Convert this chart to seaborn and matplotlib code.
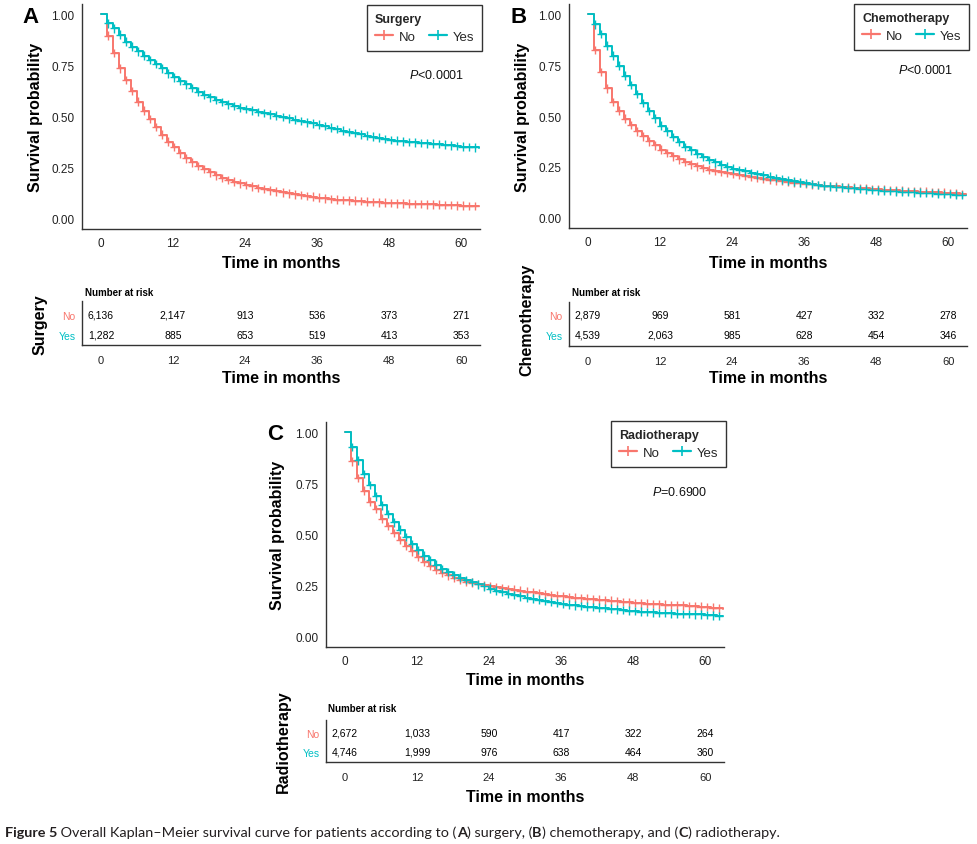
import numpy as np
import pandas as pd
import matplotlib
matplotlib.use("Agg")
import matplotlib.pyplot as plt
import seaborn as sns
from matplotlib.lines import Line2D

# ---------------- data ----------------
months = list(range(64))

surgery_no = [1.00, 0.895, 0.81, 0.735, 0.678, 0.625, 0.572, 0.528, 0.487, 0.449,
              0.412, 0.377, 0.350, 0.320, 0.295, 0.276, 0.259, 0.243, 0.227, 0.212,
              0.199, 0.190, 0.181, 0.173, 0.165, 0.158, 0.151, 0.145, 0.139, 0.134,
              0.129, 0.124, 0.120, 0.116, 0.112, 0.108, 0.104, 0.100, 0.097, 0.094,
              0.092, 0.090, 0.088, 0.086, 0.084, 0.082, 0.080, 0.079, 0.078, 0.076,
              0.075, 0.074, 0.073, 0.072, 0.071, 0.070, 0.069, 0.068, 0.067, 0.066,
              0.064, 0.063, 0.062, 0.062]
surgery_yes = [1.00, 0.956, 0.931, 0.900, 0.866, 0.842, 0.818, 0.797, 0.776, 0.757,
               0.735, 0.711, 0.692, 0.674, 0.657, 0.639, 0.622, 0.607, 0.593, 0.581,
               0.570, 0.560, 0.552, 0.544, 0.537, 0.530, 0.523, 0.517, 0.510, 0.504,
               0.497, 0.491, 0.484, 0.478, 0.472, 0.466, 0.460, 0.453, 0.446, 0.438,
               0.431, 0.425, 0.419, 0.413, 0.407, 0.401, 0.396, 0.391, 0.386, 0.382,
               0.379, 0.376, 0.373, 0.371, 0.369, 0.367, 0.365, 0.362, 0.359, 0.356,
               0.353, 0.351, 0.349, 0.348]
chemo_no = [1.00, 0.825, 0.717, 0.636, 0.568, 0.527, 0.487, 0.455, 0.425, 0.400,
            0.376, 0.356, 0.335, 0.319, 0.302, 0.287, 0.274, 0.263, 0.253, 0.245,
            0.237, 0.231, 0.226, 0.221, 0.216, 0.211, 0.206, 0.201, 0.197, 0.192,
            0.188, 0.184, 0.180, 0.176, 0.173, 0.170, 0.167, 0.164, 0.161, 0.158,
            0.156, 0.154, 0.152, 0.150, 0.148, 0.146, 0.144, 0.142, 0.140, 0.138,
            0.137, 0.135, 0.134, 0.132, 0.131, 0.129, 0.128, 0.126, 0.125, 0.123,
            0.122, 0.120, 0.118, 0.117]
chemo_yes = [1.00, 0.950, 0.902, 0.845, 0.796, 0.747, 0.698, 0.653, 0.608, 0.564,
             0.524, 0.489, 0.453, 0.424, 0.396, 0.372, 0.348, 0.331, 0.315, 0.299,
             0.285, 0.272, 0.261, 0.251, 0.242, 0.235, 0.228, 0.221, 0.214, 0.208,
             0.202, 0.195, 0.189, 0.184, 0.179, 0.174, 0.170, 0.166, 0.162, 0.158,
             0.155, 0.152, 0.149, 0.146, 0.144, 0.142, 0.140, 0.137, 0.135, 0.133,
             0.132, 0.130, 0.129, 0.127, 0.125, 0.124, 0.122, 0.121, 0.119, 0.118,
             0.116, 0.114, 0.112, 0.111]
radio_no = [1.00, 0.858, 0.777, 0.715, 0.661, 0.625, 0.577, 0.541, 0.507, 0.474,
            0.446, 0.417, 0.389, 0.365, 0.345, 0.327, 0.313, 0.300, 0.288, 0.278,
            0.270, 0.264, 0.257, 0.251, 0.246, 0.242, 0.238, 0.234, 0.230, 0.225,
            0.221, 0.217, 0.213, 0.209, 0.205, 0.201, 0.197, 0.194, 0.191, 0.188,
            0.186, 0.183, 0.181, 0.178, 0.176, 0.173, 0.171, 0.168, 0.166, 0.164,
            0.162, 0.160, 0.158, 0.157, 0.156, 0.154, 0.153, 0.151, 0.149, 0.147,
            0.145, 0.142, 0.139, 0.137]
radio_yes = [1.00, 0.927, 0.862, 0.796, 0.743, 0.687, 0.642, 0.601, 0.560, 0.524,
             0.487, 0.454, 0.425, 0.397, 0.373, 0.352, 0.332, 0.316, 0.303, 0.289,
             0.278, 0.267, 0.256, 0.246, 0.235, 0.226, 0.218, 0.211, 0.205, 0.198,
             0.192, 0.186, 0.181, 0.175, 0.169, 0.165, 0.161, 0.157, 0.154, 0.151,
             0.148, 0.145, 0.142, 0.140, 0.137, 0.134, 0.131, 0.128, 0.125, 0.123,
             0.121, 0.119, 0.117, 0.116, 0.115, 0.113, 0.112, 0.111, 0.110, 0.109,
             0.107, 0.105, 0.102, 0.100]

risk_times = [0, 12, 24, 36, 48, 60]
surgery_risk_no = [6136, 2147, 913, 536, 373, 271]
surgery_risk_yes = [1282, 885, 653, 519, 413, 353]
chemo_risk_no = [2879, 969, 581, 427, 332, 278]
chemo_risk_yes = [4539, 2063, 985, 628, 454, 346]
radio_risk_no = [2672, 1033, 590, 417, 322, 264]
radio_risk_yes = [4746, 1999, 976, 638, 464, 360]

group_labels = ["No", "Yes"]
y_tick_values = [0.0, 0.25, 0.5, 0.75, 1.0]
y_tick_labels = ["0.00", "0.25", "0.50", "0.75", "1.00"]
pvalues = ["<0.0001", "<0.0001", "=0.6900"]

RED = "#F8766D"
TEAL = "#00BFC4"
palette = {"No": RED, "Yes": TEAL}

# ---------------- style ----------------
sns.set_style("white")
plt.rcParams["font.family"] = ["Liberation Sans", "DejaVu Sans"]
plt.rcParams["mathtext.fontset"] = "custom"
plt.rcParams["mathtext.rm"] = "Liberation Sans"
plt.rcParams["mathtext.it"] = "Liberation Sans:italic"
plt.rcParams["mathtext.bf"] = "Liberation Sans:bold"

W, H = 978, 845
fig = plt.figure(figsize=(W / 100, H / 100), dpi=100)
fig.patch.set_facecolor("white")


def fx(px):
    return px / W


def fy(py):
    return 1 - py / H


def rect(l, t, r, b):
    return [fx(l), fy(b), (r - l) / W, (b - t) / H]


AX_COL = "#333333"
XLIM = (-3.15, 63.15)


def style_axes(ax):
    for s in ["top", "right"]:
        ax.spines[s].set_visible(False)
    for s in ["left", "bottom"]:
        ax.spines[s].set_color(AX_COL)
        ax.spines[s].set_linewidth(1.0)
    ax.tick_params(axis="both", which="both", direction="out", length=3.5,
                   width=0.8, color=AX_COL, labelsize=8.5, labelcolor="#222222")


def draw_panel(cfg):
    ax = fig.add_axes(rect(*cfg["main"]))
    style_axes(ax)
    frames = []
    for g, s in zip(group_labels, cfg["series"]):
        frames.append(pd.DataFrame({"time": months, "surv": s, "group": g}))
    df = pd.concat(frames, ignore_index=True)
    sns.lineplot(data=df, x="time", y="surv", hue="group", palette=palette,
                 drawstyle="steps-post", estimator=None, sort=True,
                 linewidth=1.4, legend=False, ax=ax)
    mk = df[(df["time"] >= 1) & (df["time"] <= 62)].copy()
    mk["time"] = mk["time"] + 0.25
    sns.scatterplot(data=mk, x="time", y="surv", hue="group", palette=palette,
                    marker="+", s=38, linewidth=1.0, legend=False, ax=ax,
                    zorder=3)
    ax.set_xlim(*XLIM)
    ax.set_ylim(-0.05, 1.05)
    ax.set_xticks(risk_times)
    ax.set_yticks(y_tick_values)
    ax.set_yticklabels(y_tick_labels)
    ax.tick_params(axis="x", pad=2.5)
    ax.tick_params(axis="y", pad=2)
    ax.set_xlabel("")
    ax.set_ylabel("")
    ax.text(cfg["pval"][0], cfg["pval"][1], r"$\mathit{P}$" + cfg["ptext"],
            fontsize=9, ha="left", va="center", color="#111111")

    # labels
    l, t, r, b = cfg["main"]
    fig.text(fx(cfg["ylab_x"]), fy((t + b) / 2), "Survival probability",
             rotation=90, ha="center", va="center", fontsize=11.5,
             fontweight="bold", color="black")
    fig.text(fx((l + r) / 2), fy(cfg["xlab_y"]), "Time in months",
             ha="center", va="center", fontsize=11.5, fontweight="bold",
             color="black")
    fig.text(fx(cfg["letter"][0]), fy(cfg["letter"][1]), cfg["letter_txt"],
             ha="left", va="top", fontsize=16, fontweight="bold",
             color="black")

    # legend
    handles = [Line2D([], [], color=palette[g], lw=1.6, marker="+",
                      markersize=7.5, markeredgewidth=1.2) for g in group_labels]
    leg = fig.legend(handles, group_labels, title=cfg["name"], ncol=2,
                     loc="upper right",
                     bbox_to_anchor=(fx(cfg["legend"][0]), fy(cfg["legend"][1])),
                     borderaxespad=0.0,
                     fontsize=9.5, title_fontsize=9, frameon=True,
                     fancybox=False, edgecolor="black", handlelength=1.4,
                     handletextpad=0.4, columnspacing=1.0, borderpad=0.6,
                     labelspacing=0.45, alignment="left")
    leg.get_title().set_fontweight("bold")
    leg.get_frame().set_linewidth(1.0)

    # risk table
    tl, tt, tr, tb = cfg["table"]
    ty_no, ty_yes = cfg["rows"]
    tax = fig.add_axes(rect(tl, tt, tr, tb))
    style_axes(tax)
    s = ty_yes - ty_no
    tax.set_ylim(0 - (tb - ty_yes) / s, 1 + (ty_no - tt) / s)
    tax.set_xlim(*XLIM)
    tax.set_xticks(risk_times)
    tax.set_yticks([1, 0])
    tax.set_yticklabels(group_labels)
    tax.tick_params(axis="y", length=2.5, labelsize=7.5, pad=2)
    tax.tick_params(axis="x", labelsize=8, pad=4)
    for lab, g in zip(tax.get_yticklabels(), group_labels):
        lab.set_color(palette[g])
    for yv, counts in zip([1, 0], cfg["risk"]):
        for tval, n in zip(risk_times, counts):
            tax.text(tval, yv, f"{n:,}", ha="center", va="center",
                     fontsize=7.5, color="black")
    fig.text(fx(cfg["nar"][0]), fy(cfg["nar"][1]), "Number at risk",
             ha="left", va="center", fontsize=7, fontweight="bold",
             color="black")
    fig.text(fx((tl + tr) / 2), fy(cfg["txlab_y"]), "Time in months",
             ha="center", va="center", fontsize=11.5, fontweight="bold",
             color="black")
    fig.text(fx(cfg["tylab"][0]), fy(cfg["tylab"][1]), cfg["name"],
             rotation=90, ha="center", va="center", fontsize=11.5,
             fontweight="bold", color="black")


panels = [
    dict(name="Surgery", series=[surgery_no, surgery_yes],
         risk=[surgery_risk_no, surgery_risk_yes], ptext=pvalues[0],
         main=(82, 5, 480, 230), table=(82, 302, 480, 346), rows=(316, 336),
         letter=(22, 7), letter_txt="A", legend=(482, 6), pval=(51.3, 0.707),
         ylab_x=36, xlab_y=264, nar=(85, 293), txlab_y=379, tylab=(40, 325)),
    dict(name="Chemotherapy", series=[chemo_no, chemo_yes],
         risk=[chemo_risk_no, chemo_risk_yes], ptext=pvalues[1],
         main=(569, 5, 967, 229), table=(569, 303, 967, 347), rows=(316, 336),
         letter=(511, 7), letter_txt="B", legend=(969, 5), pval=(51.7, 0.728),
         ylab_x=523, xlab_y=264, nar=(572, 293), txlab_y=379, tylab=(527, 320)),
    dict(name="Radiotherapy", series=[radio_no, radio_yes],
         risk=[radio_risk_no, radio_risk_yes], ptext=pvalues[2],
         main=(326, 423, 724, 648), table=(326, 721, 724, 763), rows=(734, 753),
         letter=(267, 424), letter_txt="C", legend=(726, 422), pval=(51.1, 0.708),
         ylab_x=278, xlab_y=681, nar=(328, 709), txlab_y=798, tylab=(283, 742)),
]

for cfg in panels:
    draw_panel(cfg)

# ---------------- caption ----------------
caption_pieces = [
    ("Figure 5", "bold"),
    (" Overall Kaplan\u2013Meier survival curve for patients according to (", "normal"),
    ("A", "bold"), (") surgery, (", "normal"), ("B", "bold"),
    (") chemotherapy, and (", "normal"), ("C", "bold"), (") radiotherapy.", "normal"),
]
renderer = fig.canvas.get_renderer()


def draw_caption(size, x0=5, y=833):
    x = x0
    arts = []
    for s, w in caption_pieces:
        t = fig.text(fx(x), fy(y), s, fontsize=size, fontweight=w,
                     family=["Lato", "DejaVu Sans"], ha="left", va="center",
                     color="#231F20")
        bb = t.get_window_extent(renderer)
        x += bb.width
        arts.append(t)
    return x, arts


end, arts = draw_caption(10)
for a in arts:
    a.remove()
scale = (778 - 5) / (end - 5)
draw_caption(10 * scale)

fig.savefig("out.png", dpi=100, facecolor="white")
